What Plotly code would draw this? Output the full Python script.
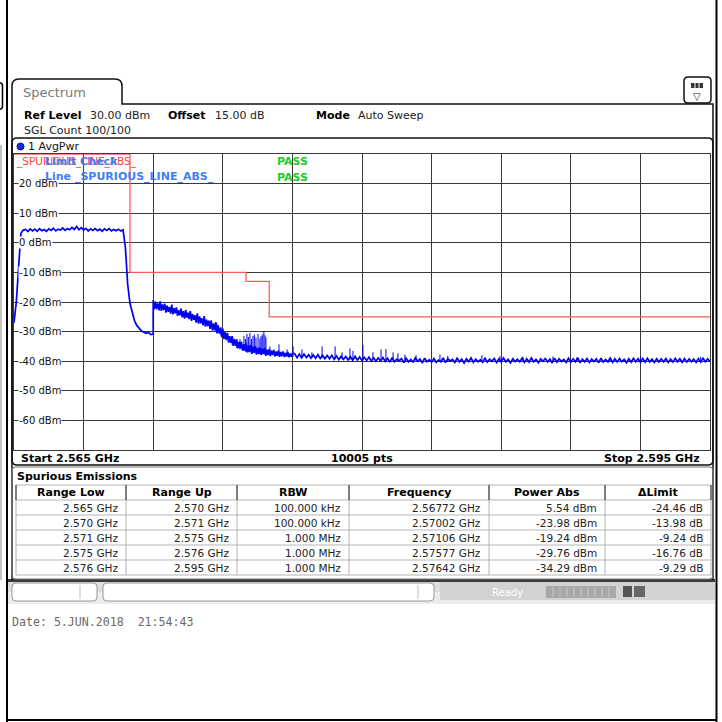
import plotly.graph_objects as go

W = H = 722


def px(x):
    return x / W


def py(y):
    return 1 - y / H


# ---------------- data ----------------
sweep_start_ghz = 2.565
sweep_stop_ghz = 2.595
sweep_points_label = "10005 pts"
top_dbm = 30
bottom_dbm = -70
y_tick_dbm = [20, 10, 0, -10, -20, -30, -40, -50, -60]
y_tick_labels = ["20 dBm", "10 dBm", "0 dBm", "-10 dBm", "-20 dBm",
                 "-30 dBm", "-40 dBm", "-50 dBm", "-60 dBm"]

# trace, read in three pieces (noise band drawn as alternating high/low readings)
# piece A: 2.5650 .. 2.5710 GHz, every 0.1 MHz
seg_a_start_ghz, seg_a_step_ghz = 2.5650, 0.0001
seg_a_dbm = [
    -27.0, -20.0, -8.0, 3.2, 4.3, 4.5, 3.8, 4.7, 4.0, 4.6,
    3.9, 4.8, 4.1, 4.5, 3.9, 4.7, 4.2, 4.9, 4.0, 4.6,
    4.3, 5.0, 4.2, 4.8, 4.4, 5.2, 4.5, 5.5, 4.4, 5.1,
    4.3, 4.9, 4.0, 4.7, 4.2, 4.8, 4.1, 4.6, 3.9, 4.7,
    4.2, 4.8, 4.0, 4.5, 4.1, 4.6, 4.0, 4.4, -1.5, -14.0,
    -20.5, -24.0, -26.5, -28.0, -29.0, -29.8, -30.2, -30.6, -30.3, -31.0,
    -30.8,
]
# piece B: 2.5710 .. 2.5770 GHz, every 0.05 MHz
seg_b_start_ghz, seg_b_step_ghz = 2.5710, 0.00005
seg_b_dbm = [
    -19.3, -22.5, -19.9, -22.4, -20.5, -22.8, -19.8, -23.0, -20.8, -22.7,
    -20.6, -23.6, -21.2, -23.3, -21.7, -23.9, -20.9, -24.2, -22.1, -23.8,
    -21.8, -24.7, -22.8, -24.5, -22.2, -25.2, -23.1, -25.6, -22.7, -25.3,
    -23.6, -25.8, -23.1, -26.4, -24.1, -26.0, -24.5, -27.0, -23.8, -27.3,
    -24.9, -27.2, -25.5, -27.9, -24.8, -28.3, -26.0, -28.1, -26.3, -29.1,
    -26.2, -29.6, -27.2, -29.7, -26.8, -30.6, -27.9, -30.7, -28.7, -31.9,
    -29.0, -32.5, -30.2, -32.7, -30.4, -33.7, -31.5, -33.8, -31.5, -34.8,
    -32.5, -34.8, -32.6, -35.7, -33.5, -35.7, -33.4, -36.4, -34.2, -36.4,
    -34.0, -37.0, -34.7, -36.8, -34.5, -37.5, -35.1, -37.2, -34.9, -37.8,
    -35.5, -37.6, -35.3, -37.9, -35.8, -37.6, -35.6, -38.2, -36.1, -37.9,
    -35.9, -38.3, -36.4, -37.9, -36.2, -38.4, -36.7, -38.2, -36.4, -38.5,
    -36.9, -38.3, -36.7, -38.6, -37.2, -38.4, -36.9, -38.7, -37.4, -38.5,
    -37.3,
]
# piece C: 2.5771 .. 2.5950 GHz, every 0.1 MHz
seg_c_start_ghz, seg_c_step_ghz = 2.5771, 0.0001
seg_c_dbm = [
    -37.5, -38.8, -37.6, -38.9, -37.6, -38.8, -37.8, -39.0, -37.9,
    -39.0, -37.8, -39.1, -38.0, -39.2, -38.1, -39.2, -38.0, -39.4, -38.2,
    -39.5, -38.3, -39.4, -38.4, -39.6, -38.5, -39.7, -38.4, -39.6, -38.6,
    -39.8, -38.7, -39.8, -38.6, -39.9, -38.8, -40.0, -38.9, -39.9, -38.8,
    -40.1, -39.0, -40.3, -38.8, -40.2, -39.3, -39.9, -39.1, -40.5, -39.0,
    -40.2, -39.4, -40.3, -38.9, -40.0, -39.3, -40.6, -39.0, -40.2, -39.5,
    -40.3, -39.1, -40.4, -39.6, -40.2, -38.9, -40.5, -39.2, -39.9, -39.4,
    -40.4, -39.0, -40.2, -39.3, -40.6, -39.2, -40.1, -38.9, -40.4, -39.3,
    -40.2, -39.5, -40.4, -39.0, -40.3, -39.3, -40.0, -39.1, -40.5, -39.2,
    -40.3, -38.9, -40.2, -39.4, -40.6, -39.2, -40.1, -39.3, -40.2, -39.0,
    -40.4, -39.2, -40.3, -38.9, -40.2, -39.4, -40.5, -39.2, -40.0, -39.1,
    -40.2, -39.3, -40.6, -39.0, -40.3, -39.2, -40.1, -39.4, -40.4, -39.0,
    -40.3, -39.2, -40.2, -38.9, -40.5, -39.3, -40.2, -39.1, -40.4, -39.3,
    -40.1, -39.2, -40.5, -39.0, -40.3, -39.4, -40.2, -38.9, -40.4, -39.2,
    -40.3, -39.1, -40.2, -39.4, -40.5, -39.2, -40.3, -39.0, -40.2, -39.2,
    -40.4, -39.1, -40.3, -39.0, -40.2, -39.3, -40.4, -39.2, -40.3, -39.2,
    -40.2, -39.1, -40.4, -39.3, -40.3, -39.0, -40.2, -39.2, -40.4, -39.1,
    -40.3, -39.2, -40.2, -39.3, -40.4, -39.1, -40.3, -39.0, -40.2, -39.2,
    -40.1,
]

# narrow spurs (offset from sweep start in MHz)
spur_offset_mhz = [8.75, 8.92, 9.14, 9.40, 9.60, 9.74, 9.91, 10.04, 10.17, 10.30,
                   10.43, 10.52, 10.65, 10.77, 10.86, 11.03, 11.42, 11.77, 12.03, 12.41,
                   12.84, 13.28, 13.84, 14.14, 14.48, 14.61, 15.04, 15.47, 15.82, 16.03,
                   16.34, 16.55, 16.85, 17.33, 18.36, 18.70, 20.17, 20.95, 21.94, 23.23,
                   24.27, 25.70, 27.00, 29.60,
                   9.98, 10.10, 10.24, 10.36, 10.60, 10.70, 10.82]
spur_peak_dbm = [-27.5, -28.5, -31.5, -32.0, -33.0, -32.5, -31.5, -30.8, -30.5, -31.5,
                 -32.0, -30.8, -31.5, -29.8, -32.0, -35.0, -34.3, -36.0, -35.0, -36.0,
                 -37.0, -35.0, -35.0, -37.0, -35.7, -36.5, -34.5, -37.0, -36.0, -35.9,
                 -37.0, -37.3, -37.8, -38.0, -37.7, -38.2, -38.0, -38.3, -38.5, -38.4,
                 -38.6, -38.5, -38.4, -38.5,
                 -32.5, -31.8, -32.5, -31.0, -32.3, -31.0, -31.2]
spur_base_dbm = [-30.0, -31.0, -33.0, -34.5, -35.5, -36.0, -36.5, -36.5, -37.0, -37.0,
                 -37.0, -37.5, -37.5, -37.5, -37.5, -38.0, -38.0, -38.3, -38.5, -38.7,
                 -38.9, -39.0, -39.3, -39.4, -39.5, -39.5, -39.7, -39.8, -39.9, -40.0,
                 -40.0, -40.0, -40.0, -40.1, -40.1, -40.2, -40.2, -40.2, -40.2, -40.2,
                 -40.2, -40.2, -40.2, -40.2,
                 -36.8, -37.0, -37.2, -37.3, -37.5, -37.5, -37.6]

# spurious emissions table
table_headers = ["Range Low", "Range Up", "RBW", "Frequency", "Power Abs", "\u0394Limit"]
range_low_ghz = [2.565, 2.570, 2.571, 2.575, 2.576]
range_up_ghz = [2.570, 2.571, 2.575, 2.576, 2.595]
rbw_labels = ["100.000 kHz", "100.000 kHz", "1.000 MHz", "1.000 MHz", "1.000 MHz"]
peak_freq_ghz = [2.56772, 2.57002, 2.57106, 2.57577, 2.57642]
power_abs_dbm = [5.54, -23.98, -19.24, -29.76, -34.29]
delta_limit_db = [-24.46, -13.98, -9.24, -16.76, -9.29]
limit_dbm = [round(p - d, 2) for p, d in zip(power_abs_dbm, delta_limit_db)]

# ---------------- figure ----------------
FONT = "DejaVu Sans"
BLUE = "#0000f0"
RED = "#ff5a5a"

trace_ghz, trace_dbm = [], []
for s0, st, vals in ((seg_a_start_ghz, seg_a_step_ghz, seg_a_dbm),
                     (seg_b_start_ghz, seg_b_step_ghz, seg_b_dbm),
                     (seg_c_start_ghz, seg_c_step_ghz, seg_c_dbm)):
    trace_ghz += [s0 + i * st for i in range(len(vals))]
    trace_dbm += vals

spur_x, spur_y = [], []
for f, pk, bs in zip(spur_offset_mhz, spur_peak_dbm, spur_base_dbm):
    g = sweep_start_ghz + f / 1000.0
    spur_x += [g, g, None]
    spur_y += [bs, pk, None]

lim_x, lim_y = [], []
for lo, up, lv in zip(range_low_ghz, range_up_ghz, limit_dbm):
    lim_x += [lo, up]
    lim_y += [lv, lv]

fig = go.Figure()
fig.add_trace(go.Scatter(x=lim_x, y=lim_y, mode="lines",
                         line=dict(color=RED, width=1.3), hoverinfo="skip"))
fig.add_trace(go.Scatter(x=trace_ghz, y=trace_dbm, mode="lines",
                         line=dict(color=BLUE, width=1.7), hoverinfo="skip"))
fig.add_trace(go.Scatter(x=spur_x, y=spur_y, mode="lines",
                         line=dict(color=BLUE, width=1), hoverinfo="skip"))

GRID = "#3a3a3a"
fig.update_layout(
    width=W, height=H, autosize=False,
    margin=dict(l=0, r=0, t=0, b=0, pad=0),
    paper_bgcolor="white", plot_bgcolor="rgba(0,0,0,0)",
    showlegend=False,
    xaxis=dict(domain=[px(14), px(710)], range=[sweep_start_ghz, sweep_stop_ghz],
               tick0=sweep_start_ghz, dtick=(sweep_stop_ghz - sweep_start_ghz) / 10,
               showgrid=True, gridcolor=GRID, gridwidth=1, zeroline=False,
               showticklabels=False, ticks="", showline=True, mirror=True,
               linecolor=GRID, linewidth=1, fixedrange=True),
    yaxis=dict(domain=[py(450), py(154)], range=[bottom_dbm, top_dbm],
               tick0=bottom_dbm, dtick=10, showgrid=True, gridcolor=GRID, gridwidth=1,
               zeroline=False, showticklabels=False, ticks="", showline=True,
               mirror=True, linecolor=GRID, linewidth=1, fixedrange=True),
)

ann = []


def txt(x, y, s, size=11, color="#000", anchor="left", family=FONT, bg=None, **kw):
    d = dict(x=px(x), y=py(y), xref="paper", yref="paper", text=s, showarrow=False,
             xanchor=anchor, yanchor="middle",
             font=dict(family=family, size=size, color=color))
    if bg:
        d["bgcolor"] = bg
        d["borderpad"] = 0
    d.update(kw)
    ann.append(d)


# level labels inside the grid
for v, lab in zip(y_tick_dbm, y_tick_labels):
    ann.append(dict(x=px(18), y=v, xref="paper", yref="y", text=lab, showarrow=False,
                    xanchor="left", yanchor="middle", bgcolor="white", borderpad=0,
                    font=dict(family=FONT, size=10, color="#111")))

# header
txt(21, 92, "Spectrum", size=13, color="#7a7a7a")
txt(22, 115, "<b>Ref Level</b>", size=11)
txt(88, 115, "30.00 dBm", size=11, color="#222")
txt(166, 115, "<b>Offset</b>", size=11)
txt(213, 115, "15.00 dB", size=11, color="#222")
txt(314, 115, "<b>Mode</b>", size=11)
txt(356, 115, "Auto Sweep", size=11, color="#222")
txt(22, 130, "SGL Count 100/100", size=11, color="#222")
txt(26, 146, "1 AvgPwr", size=11, color="#111")

# limit check texts
txt(14, 162, "_SPURIOUS_LINE_ABS_", size=10.5, color="#ff4444")
txt(43, 162, "<b>Limit Check</b>", size=11, color="#3f7ff5")
txt(43, 176, "<b>Line _SPURIOUS_LINE_ABS_</b>", size=11, color="#3f7ff5")
txt(275, 162, "<b>PASS</b>", size=11, color="#22cc22")
txt(275, 177, "<b>PASS</b>", size=11, color="#22cc22")

# bottom of diagram
txt(19, 458, "<b>Start %.3f GHz</b>" % sweep_start_ghz, size=11)
txt(362, 458, "<b>%s</b>" % sweep_points_label, size=11, anchor="center")
txt(702, 458, "<b>Stop %.3f GHz</b>" % sweep_stop_ghz, size=11, anchor="right")

# table
txt(15, 476, "<b>Spurious Emissions</b>", size=11)
col_edges = [16, 126, 237, 349, 489, 605, 711]
row_top = 485
row_h = 15
for i, h in enumerate(table_headers):
    txt((col_edges[i] + col_edges[i + 1]) / 2, row_top + row_h / 2, "<b>%s</b>" % h,
        size=11, anchor="center")
rows = []
for k in range(len(range_low_ghz)):
    rows.append(["%.3f GHz" % range_low_ghz[k], "%.3f GHz" % range_up_ghz[k], rbw_labels[k],
                 "%.5f GHz" % peak_freq_ghz[k], "%.2f dBm" % power_abs_dbm[k],
                 "%.2f dB" % delta_limit_db[k]])
for r, row in enumerate(rows):
    yc = row_top + row_h * (r + 1) + row_h / 2
    for c, s in enumerate(row):
        txt(col_edges[c + 1] - 6, yc, s, size=10.5, color="#222", anchor="right")

# status bar and date
txt(490, 592, "Ready", size=10, color="#ffffff")
txt(10, 622, "Date: 5.JUN.2018\u00a0\u00a021:54:43", size=11.6, color="#6a6a6a",
    family="DejaVu Sans Mono")
txt(697, 96, "\u25bd", size=10, color="#111", anchor="center")

fig.update_layout(annotations=ann)

# ---------------- shapes ----------------
shapes = []


def line(x0, y0, x1, y1, color="#000", width=1):
    shapes.append(dict(type="line", xref="paper", yref="paper", x0=px(x0), y0=py(y0),
                       x1=px(x1), y1=py(y1), line=dict(color=color, width=width)))


def rect(x0, y0, x1, y1, fill, color=None, width=0):
    shapes.append(dict(type="rect", xref="paper", yref="paper", x0=px(x0), y0=py(y0),
                       x1=px(x1), y1=py(y1), fillcolor=fill,
                       line=dict(color=color or fill, width=width), layer="below"))


def P(x, y):
    return "%.5f,%.5f" % (px(x), py(y))


def rrect(x0, y0, x1, y1, r, color="#000", width=1.5, fill=None, layer="above"):
    p = ("M" + P(x0 + r, y0) + " L" + P(x1 - r, y0) + " Q" + P(x1, y0) + " " + P(x1, y0 + r) +
         " L" + P(x1, y1 - r) + " Q" + P(x1, y1) + " " + P(x1 - r, y1) +
         " L" + P(x0 + r, y1) + " Q" + P(x0, y1) + " " + P(x0, y1 - r) +
         " L" + P(x0, y0 + r) + " Q" + P(x0, y0) + " " + P(x0 + r, y0) + " Z")
    d = dict(type="path", xref="paper", yref="paper", path=p,
             line=dict(color=color, width=width), layer=layer)
    if fill:
        d["fillcolor"] = fill
    shapes.append(d)


# outer black frame
line(7, 0, 7, 722, "#000", 2)
line(716.5, 0, 716.5, 722, "#000", 2)
line(7, 720, 716.5, 720, "#000", 2)
# fragments of a neighbouring window at the far left
bracket = ("M" + P(0, 83) + " L" + P(0.5, 83) + " Q" + P(2.5, 83) + " " + P(2.5, 86) +
           " L" + P(2.5, 106) + " Q" + P(2.5, 109) + " " + P(0.5, 109) + " L" + P(0, 109))
shapes.append(dict(type="path", xref="paper", yref="paper", path=bracket,
                   line=dict(color="#000", width=1.5)))
line(1, 145, 1, 580, "#888", 1)

# spectrum tab + window outline
tab = ("M" + P(12, 580) + " L" + P(12, 86) + " Q" + P(12, 79) + " " + P(19, 79) +
       " L" + P(115, 79) + " Q" + P(122, 79) + " " + P(122, 86) +
       " L" + P(122, 104) + " L" + P(713, 104) + " L" + P(713, 580))
shapes.append(dict(type="path", xref="paper", yref="paper", path=tab,
                   line=dict(color="#111", width=1.5)))
# icon
rrect(684, 77, 711, 103, 4, color="#111", width=1.5)
rect(691, 83, 703, 88, "#333")
line(695, 83, 695, 88, "#fff", 1)
line(699, 83, 699, 88, "#fff", 1)

# diagram box
rrect(12, 138, 713, 465, 5, color="#111", width=1.5)
shapes.append(dict(type="circle", xref="paper", yref="paper", x0=px(17), y0=py(143),
                   x1=px(24), y1=py(150), fillcolor="#1030e0",
                   line=dict(color="#0a1a90", width=1)))

# table box
rrect(12, 467, 713, 579, 4, color="#777", width=1.2)
for y in range(row_top, row_top + row_h * 6 + 1, row_h):
    line(col_edges[0], y, col_edges[-1], y, "#b5b5b5", 1)
for x in col_edges:
    line(x, row_top, x, row_top + row_h, "#555", 1.5)
    line(x, row_top + row_h, x, row_top + row_h * 6, "#b0b0b0", 1)

# status bar
rect(8, 579, 715, 582, "#3a3a3a")
rect(8, 582, 715, 592, "#dedede")
rect(8, 592, 715, 604, "#ececec")
rect(440, 582, 715, 600, "#d2d2d2")
rrect(12, 583, 97, 601, 4, color="#999", width=1, fill="white", layer="below")
rrect(103, 583, 434, 601, 4, color="#999", width=1, fill="white", layer="below")
line(80, 585, 80, 599, "#bbb", 1)
line(418, 585, 418, 599, "#bbb", 1)
rect(546, 586, 616, 598, "#a9a9a9")
for xs in range(553, 616, 7):
    line(xs, 587, xs, 597, "#c8c8c8", 1)
rect(623, 586, 632, 597, "#555")
rect(634, 586, 645, 597, "#666")

fig.update_layout(shapes=shapes)

fig.write_html("out.html",
               config={"displayModeBar": False, "staticPlot": True},
               post_script="document.body.style.margin='0';"
                           "document.body.style.overflow='hidden';")
